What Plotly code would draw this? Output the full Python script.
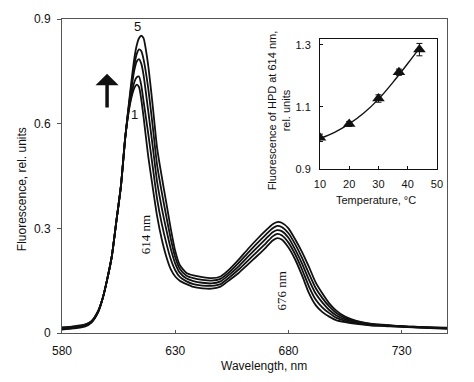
import plotly.graph_objects as go

# ---- main spectra data ----
wavelength = [580, 585, 590, 593, 596, 598, 600, 602, 604, 606, 608, 610, 612, 613, 614, 615, 616,
              618, 620, 622, 624, 626, 628, 630, 632, 635, 638, 642, 646, 650, 654, 658, 662, 666,
              670, 673, 675, 677, 680, 683, 686, 689, 692, 695, 698, 701, 705, 710, 716, 725, 735, 750]

curve1 = [0.010, 0.013, 0.018, 0.030, 0.060, 0.100, 0.155, 0.220, 0.320, 0.420, 0.565, 0.655, 0.703, 0.712, 0.705, 0.670, 0.620,
          0.510, 0.420, 0.335, 0.270, 0.220, 0.183, 0.162, 0.150, 0.140, 0.132, 0.128, 0.127, 0.133, 0.152, 0.172, 0.196, 0.220,
          0.245, 0.265, 0.272, 0.268, 0.245, 0.210, 0.165, 0.115, 0.080, 0.060, 0.047, 0.037, 0.031, 0.026, 0.022, 0.019, 0.016, 0.012]
curve2 = [0.012, 0.015, 0.020, 0.031, 0.061, 0.100, 0.155, 0.220, 0.320, 0.420, 0.565, 0.660, 0.720, 0.733, 0.735, 0.710, 0.665,
          0.575, 0.479, 0.384, 0.315, 0.259, 0.212, 0.180, 0.161, 0.148, 0.140, 0.136, 0.135, 0.140, 0.160, 0.182, 0.207, 0.232,
          0.257, 0.277, 0.284, 0.280, 0.259, 0.225, 0.182, 0.134, 0.096, 0.073, 0.057, 0.044, 0.035, 0.028, 0.023, 0.020, 0.017, 0.013]
curve3 = [0.013, 0.016, 0.021, 0.032, 0.062, 0.100, 0.155, 0.220, 0.320, 0.420, 0.565, 0.671, 0.755, 0.778, 0.785, 0.772, 0.740,
          0.640, 0.538, 0.433, 0.360, 0.298, 0.242, 0.199, 0.173, 0.156, 0.149, 0.144, 0.142, 0.148, 0.168, 0.191, 0.218, 0.244,
          0.270, 0.289, 0.295, 0.292, 0.273, 0.239, 0.199, 0.153, 0.113, 0.087, 0.066, 0.051, 0.039, 0.031, 0.025, 0.021, 0.017, 0.014]
curve4 = [0.015, 0.018, 0.023, 0.033, 0.063, 0.100, 0.155, 0.220, 0.320, 0.420, 0.565, 0.677, 0.770, 0.800, 0.813, 0.808, 0.785,
          0.705, 0.596, 0.481, 0.405, 0.336, 0.271, 0.217, 0.184, 0.164, 0.157, 0.152, 0.150, 0.155, 0.175, 0.201, 0.229, 0.256,
          0.282, 0.300, 0.307, 0.304, 0.286, 0.254, 0.215, 0.171, 0.129, 0.100, 0.076, 0.058, 0.043, 0.033, 0.026, 0.021, 0.018, 0.014]
curve5 = [0.016, 0.019, 0.024, 0.034, 0.064, 0.100, 0.155, 0.220, 0.320, 0.420, 0.565, 0.685, 0.790, 0.825, 0.845, 0.852, 0.845,
          0.770, 0.655, 0.530, 0.450, 0.375, 0.300, 0.235, 0.195, 0.172, 0.165, 0.160, 0.157, 0.162, 0.183, 0.210, 0.240, 0.268,
          0.294, 0.312, 0.318, 0.316, 0.300, 0.268, 0.232, 0.190, 0.145, 0.113, 0.085, 0.065, 0.047, 0.035, 0.027, 0.022, 0.018, 0.015]
curves = [curve1, curve2, curve3, curve4, curve5]

x_ticks = [580, 630, 680, 730]
y_ticks = [0, 0.3, 0.6, 0.9]
y_tick_labels = ["0", "0.3", "0.6", "0.9"]

# ---- inset data ----
temperature = [10, 20, 30, 37, 44]
fluor_614 = [1.000, 1.045, 1.127, 1.212, 1.285]
fluor_err = [0.012, 0.008, 0.012, 0.010, 0.020]
fit_temperature = [10, 15, 20, 25, 30, 35, 40, 44]
fit_values = [0.998, 1.018, 1.045, 1.080, 1.125, 1.180, 1.240, 1.290]
inset_x_ticks = [10, 20, 30, 40, 50]
inset_y_ticks = [0.9, 1.1, 1.3]
inset_y_labels = ["0.9", "1.1", "1.3"]

SANS = "Liberation Sans, Arial, sans-serif"
SERIF = "Liberation Serif, Times New Roman, serif"
INK = "#111111"
AX = "#555555"

fig = go.Figure()
for c in curves:
    fig.add_trace(go.Scatter(x=wavelength, y=c, mode="lines",
                             line=dict(color=INK, width=1.8, shape="spline", smoothing=0.6),
                             showlegend=False, hoverinfo="skip"))

fig.add_trace(go.Scatter(x=fit_temperature, y=fit_values, mode="lines",
                         line=dict(color=INK, width=1.4, shape="spline"),
                         xaxis="x2", yaxis="y2", showlegend=False, hoverinfo="skip"))
fig.add_trace(go.Scatter(x=temperature, y=fluor_614, mode="markers",
                         marker=dict(symbol="triangle-up", size=11, color=INK),
                         error_y=dict(type="data", array=fluor_err, color=INK, thickness=1, width=3),
                         xaxis="x2", yaxis="y2", showlegend=False, hoverinfo="skip"))

fig.update_layout(
    width=474, height=382,
    margin=dict(l=62, r=27, t=12, b=49),
    paper_bgcolor="white", plot_bgcolor="white",
    font=dict(family=SANS, size=12, color=INK),
    xaxis=dict(range=[580, 750], tickvals=x_ticks, ticks="inside", ticklen=3, tickcolor=AX,
               showline=True, linecolor=AX, linewidth=1, mirror=True, showgrid=False, zeroline=False,
               tickfont=dict(size=12), ticklabelstandoff=7),
    yaxis=dict(range=[0, 0.9], tickvals=y_ticks, ticktext=y_tick_labels, ticks="outside", ticklen=4,
               tickcolor=AX, showline=True, linecolor=AX, linewidth=1, mirror=True, showgrid=False,
               zeroline=False, tickfont=dict(size=12), ticklabelstandoff=4),
    xaxis2=dict(domain=[0.670, 0.974], anchor="y2", range=[10, 50], tickvals=inset_x_ticks,
                ticks="inside", ticklen=3, tickcolor=INK, showline=True, linecolor=INK, linewidth=1,
                mirror=True, showgrid=False, zeroline=False, tickfont=dict(size=11), ticklabelstandoff=5),
    yaxis2=dict(domain=[0.523, 0.935], anchor="x2", range=[0.9, 1.318], tickvals=inset_y_ticks,
                ticktext=inset_y_labels, ticks="inside", ticklen=3, tickcolor=INK, showline=True,
                linecolor=INK, linewidth=1, mirror=True, showgrid=False, zeroline=False,
                tickfont=dict(size=11), ticklabelstandoff=6),
)

ann = [
    dict(text="5", x=613.5, y=0.8776, xref="x", yref="y", showarrow=False, font=dict(size=13)),
    dict(text="1", x=612.2, y=0.625, xref="x", yref="y", showarrow=False, font=dict(size=13)),
    dict(text="", x=599.9, y=0.743, ax=599.9, ay=0.642, xref="x", yref="y", axref="x", ayref="y",
         showarrow=True, arrowhead=1, arrowsize=1.1, arrowwidth=3.5, arrowcolor=INK),
    dict(text="614 nm", x=616.6, y=0.283, xref="x", yref="y", showarrow=False, textangle=-90,
         font=dict(family=SERIF, size=13)),
    dict(text="676 nm", x=677.0, y=0.121, xref="x", yref="y", showarrow=False, textangle=-90,
         font=dict(family=SERIF, size=13)),
    dict(text="Wavelength, nm", x=0.5247, y=-0.1059, xref="paper", yref="paper", showarrow=False,
         xanchor="center", yanchor="middle", font=dict(size=12)),
    dict(text="Fluorescence, rel. units", x=-0.1039, y=0.458, xref="paper", yref="paper",
         showarrow=False, textangle=-90, xanchor="center", yanchor="middle", font=dict(size=12)),
    dict(text="Fluorescence of HPD at 614 nm,<br>rel. units", x=0.5636, y=0.709, xref="paper",
         yref="paper", showarrow=False, textangle=-90, xanchor="center", yanchor="middle",
         align="center", font=dict(size=11)),
    dict(text="Temperature, °C", x=0.8156, y=0.4237, xref="paper", yref="paper", showarrow=False,
         xanchor="center", yanchor="middle", font=dict(size=11)),
]
fig.update_layout(annotations=ann)

fig.write_html("out.html", config={"displayModeBar": False},
               post_script="document.body.style.margin='0';document.body.style.padding='0';")
